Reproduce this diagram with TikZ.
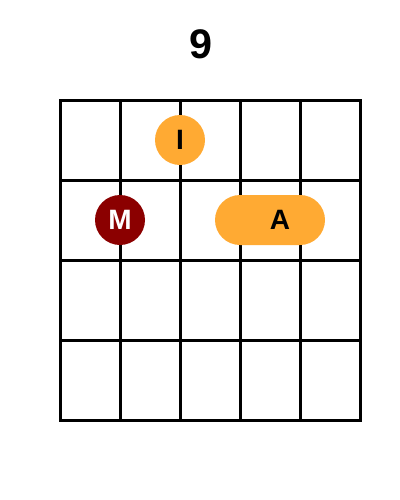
\documentclass[tikz,border=0pt]{standalone}
\usepackage{fontspec}
\setmainfont{Liberation Sans}
\definecolor{fingerorange}{RGB}{255,170,51}
\definecolor{fingerred}{RGB}{139,0,0}
\begin{document}
\begin{tikzpicture}[x=0.75pt,y=0.75pt,yscale=-1,xscale=1,
  gridline/.style={line width=2.25pt},
  finger/.style={circle,inner sep=0pt,minimum size=37.5pt,font=\fontsize{21}{21}\selectfont\bfseries},
  fingerlabel/.style={inner sep=0pt,font=\fontsize{21}{21}\selectfont\bfseries}]
\useasboundingbox (0,0) rectangle (400,500);
% Text Node
\draw (201,44) node [inner sep=0pt,font=\fontsize{31}{31}\selectfont\bfseries] (title) {9};
%Shape: Rectangle 
\draw [gridline] (60,100) rectangle (360,420);
%Straight Lines 
\draw [gridline] (120,100) -- (120,420);
\draw [gridline] (180,100) -- (180,420);
\draw [gridline] (240,100) -- (240,420);
\draw [gridline] (300,100) -- (300,420);
%Straight Lines 
\draw [gridline] (60,180) -- (360,180);
\draw [gridline] (60,260) -- (360,260);
\draw [gridline] (60,340) -- (360,340);
%Shape: Circle 
\draw (180,140) node [finger,fill=fingerorange,text=black] (index) {I};
\draw (120,220) node [finger,fill=fingerred,text=white] (middle) {M};
%Shape: Rounded Rectangle 
\fill [fingerorange,rounded corners=18.75pt] (215,195) rectangle (325,245);
% Text Node
\draw (280,220) node [fingerlabel] (ring) {A};
\end{tikzpicture}
\end{document}
